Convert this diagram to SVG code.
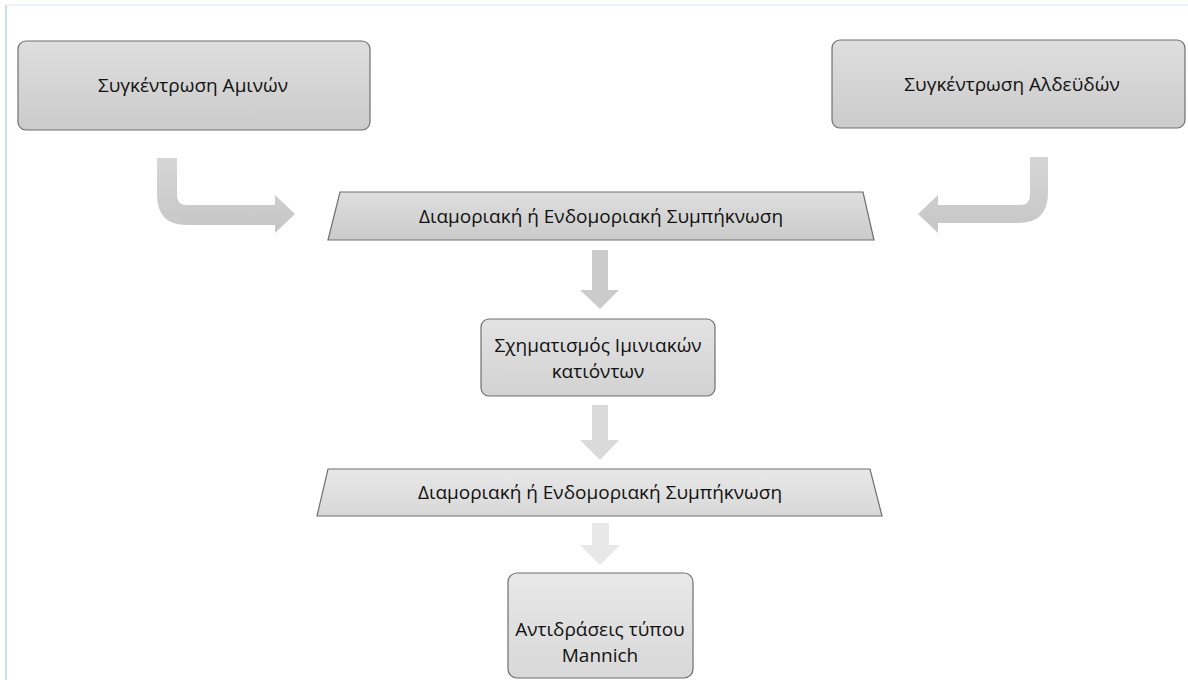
<svg xmlns="http://www.w3.org/2000/svg" width="1188" height="680" viewBox="0 0 1188 680">
<style>
.box{stroke:#6f6f6f;stroke-width:1.2}
.t{font-family:"Open Sans","Noto Sans","Liberation Sans",sans-serif;font-size:19px;fill:#111;text-anchor:middle}
</style>
<defs>
<linearGradient id="g1" x1="0" y1="0" x2="0" y2="1"><stop offset="0" stop-color="#dedede"/><stop offset="1" stop-color="#cbcbcb"/></linearGradient>
<linearGradient id="g2" x1="0" y1="0" x2="0" y2="1"><stop offset="0" stop-color="#e3e3e3"/><stop offset="1" stop-color="#d2d2d2"/></linearGradient>
<linearGradient id="g3" x1="0" y1="0" x2="0" y2="1"><stop offset="0" stop-color="#e8e8e8"/><stop offset="1" stop-color="#d8d8d8"/></linearGradient>
<linearGradient id="ga" x1="0" y1="0" x2="0" y2="1"><stop offset="0" stop-color="#d6d6d6"/><stop offset="1" stop-color="#c6c6c6"/></linearGradient>
</defs>
<rect width="1188" height="680" fill="#fff"/>
<line x1="6" y1="5" x2="1188" y2="5" stroke="#eef4fb" stroke-width="2"/>
<line x1="6" y1="5" x2="6" y2="680" stroke="#c9def2" stroke-width="2"/>
<g id="connectors">
<path d="M157,158 L177,158 L177,195 Q177,205 187,205 L275,205 L275,195 L295,214 L275,233 L275,225 L187,225 Q157,225 157,195 Z" fill="url(#ga)"/>
<path d="M1048,157 L1048,193 Q1048,223 1018,223 L938,223 L938,233 L918,214 L938,195 L938,205 L1020,205 Q1030,205 1030,195 L1030,157 Z" fill="url(#ga)"/>
<path d="M592,250 L608,250 L608,290 L619,290 L600,309 L580,290 L592,290 Z" fill="#cbcbcb"/>
<path d="M592,405 L608,405 L608,440 L619,440 L600,460 L580,440 L592,440 Z" fill="#dadada"/>
<path d="M592,523 L609,523 L609,545 L620,545 L600,565 L580,545 L592,545 Z" fill="#e8e8e8"/>
</g>
<g id="n1">
<rect class="box" x="18" y="41" width="352" height="89" rx="8" fill="url(#g1)"/>
<text class="t" x="193" y="92">Συγκέντρωση Αμινών</text>
</g>
<g id="n2">
<rect class="box" x="832" y="40" width="353" height="88" rx="8" fill="url(#g1)"/>
<text class="t" x="1012" y="91">Συγκέντρωση Αλδεϋδών</text>
</g>
<g id="n3">
<path class="box" d="M340,192 L863,192 L874,240 L328,240 Z" fill="url(#g1)"/>
<text class="t" x="601" y="223">Διαμοριακή ή Ενδομοριακή Συμπήκνωση</text>
</g>
<g id="n4">
<rect class="box" x="481" y="319" width="234" height="77" rx="8" fill="url(#g2)"/>
<text class="t" x="598" y="352">Σχηματισμός Ιμινιακών</text>
<text class="t" x="598" y="378">κατιόντων</text>
</g>
<g id="n5">
<path class="box" d="M328,469 L870,469 L882,516 L317,516 Z" fill="url(#g3)"/>
<text class="t" x="600" y="499">Διαμοριακή ή Ενδομοριακή Συμπήκνωση</text>
</g>
<g id="n6">
<rect class="box" x="508" y="573" width="185" height="105" rx="9" fill="url(#g3)"/>
<text class="t" x="600" y="636">Αντιδράσεις τύπου</text>
<text class="t" x="600" y="662">Mannich</text>
</g>
</svg>
